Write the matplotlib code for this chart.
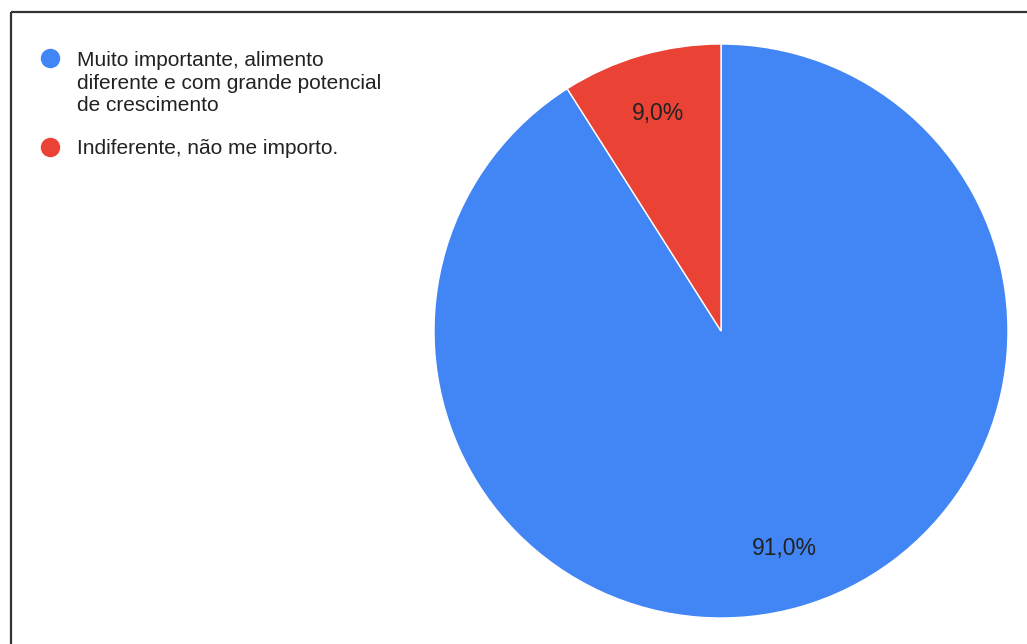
import matplotlib
matplotlib.use("Agg")
import matplotlib.pyplot as plt

categorias = [
    "Muito importante, alimento\ndiferente e com grande potencial\nde crescimento",
    "Indiferente, não me importo.",
]
percentuais = [91.0, 9.0]
cores = ["#4285F4", "#EA4335"]

plt.rcParams["font.family"] = ["Liberation Sans", "DejaVu Sans"]

W, H = 1027, 644
fig = plt.figure(figsize=(W / 100, H / 100), dpi=100)

# camada de fundo em pixels para moldura e legenda
bg = fig.add_axes([0, 0, 1, 1])
bg.set_xlim(0, W)
bg.set_ylim(H, 0)
bg.axis("off")
bg.plot([11, W + 5], [12, 12], color="#333333", lw=1.6, solid_capstyle="butt")
bg.plot([11, 11], [12, H + 5], color="#333333", lw=1.6, solid_capstyle="butt")

# legenda: baseline da ultima linha fica abaixo do marcador
entrelinha = 23
ys = [58, 147]
for cat, cor, y in zip(categorias, cores, ys):
    n = cat.count("\n")
    bg.plot(50, y, "o", ms=14, color=cor, mec="none")
    bg.text(77, y + 7 + n * entrelinha, cat, fontsize=15, color="#222222",
            va="baseline", ha="left", linespacing=1.23)

# pizza
cx, cy, r = 721, 331, 287
ax = fig.add_axes([(cx - r) / W, (H - cy - r) / H, 2 * r / W, 2 * r / H])
ax.pie(percentuais, colors=cores, startangle=90, counterclock=False,
       autopct=lambda p: f"{p:.1f}%".replace(".", ","), pctdistance=0.79,
       wedgeprops=dict(edgecolor="white", linewidth=1),
       textprops=dict(fontsize=16.5, color="#222222"))
ax.set_xlim(-1, 1)
ax.set_ylim(-1, 1)
ax.set_aspect("auto")

fig.savefig("out.png", dpi=100)
